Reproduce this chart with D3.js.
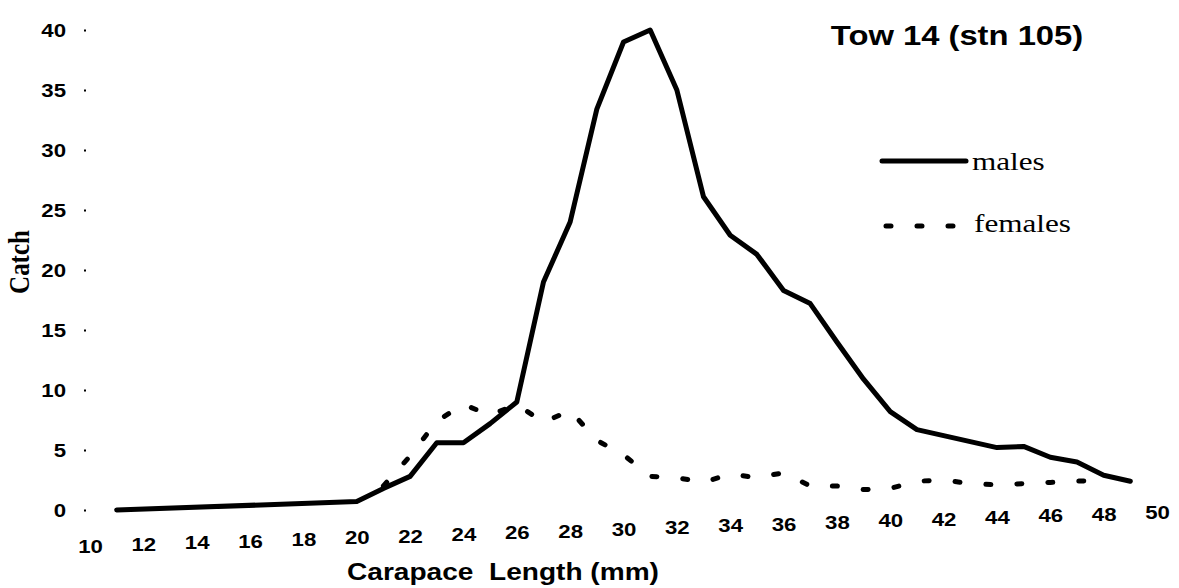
<!DOCTYPE html>
<html>
<head>
<meta charset="utf-8">
<script src="https://cdn.jsdelivr.net/npm/d3@7"></script>
<style>
  html, body { margin: 0; padding: 0; background: #fff; }
  svg { display: block; }
</style>
</head>
<body>
<svg id="chart" width="1179" height="588"></svg>
<script>
// ---- data ----
const maleLengths   = [11, 20, 21, 22, 23, 24, 25, 26, 27, 28, 29, 30, 31, 32, 33, 34, 35, 36, 37, 38, 39, 40, 41, 42, 43, 44, 45, 46, 47, 48, 49];
const maleCatch     = [0.0, 0.7, 1.8, 2.8, 5.6, 5.6, 7.2, 9.0, 19.0, 24.0, 33.4, 39.0, 40.0, 35.0, 26.1, 22.9, 21.3, 18.3, 17.2, 14.0, 10.9, 8.2, 6.7, 6.2, 5.7, 5.2, 5.3, 4.4, 4.0, 2.9, 2.4];
const femaleLengths = [21, 22, 23, 24, 25, 26, 27, 28, 29, 30, 31, 32, 33, 34, 35, 36, 37, 38, 39, 40, 41, 42, 43, 44, 45, 46, 47, 48];
const femaleCatch   = [2.0, 4.5, 7.4, 8.8, 7.9, 8.8, 7.3, 8.3, 5.8, 4.6, 2.8, 2.7, 2.3, 3.0, 2.7, 3.1, 2.0, 2.0, 1.7, 1.8, 2.4, 2.5, 2.2, 2.1, 2.2, 2.3, 2.4, 2.5];
const xTicks = [10, 12, 14, 16, 18, 20, 22, 24, 26, 28, 30, 32, 34, 36, 38, 40, 42, 44, 46, 48, 50];
const yTicks = [0, 5, 10, 15, 20, 25, 30, 35, 40];
const titleText = "Tow 14 (stn 105)";
const xTitle = "Carapace\u00a0\u00a0Length (mm)";
const yTitle = "Catch";
const seriesNames = ["males", "females"];

// ---- layout ----
const svg = d3.select("#chart");
const x = d3.scaleLinear().domain([10, 50]).range([90, 1157]);
const y = d3.scaleLinear().domain([0, 40]).range([510, 30]);
const SX = 1.17; // horizontal stretch of the scanned text
const sans = "'Liberation Sans', Arial, sans-serif";
const serif = "'Liberation Serif', 'Times New Roman', serif";

// y axis (labels + tiny tick dots, no axis line)
const yAxis = svg.append("g").attr("transform", "translate(84,0)")
  .call(d3.axisLeft(y).tickValues(yTicks).tickSize(2).tickPadding(0));
yAxis.select(".domain").remove();
yAxis.selectAll(".tick line").attr("stroke", "#000").attr("stroke-width", 2)
  .attr("x1", 0).attr("x2", 2);
yAxis.selectAll(".tick text")
  .attr("x", 0).attr("dy", null)
  .attr("dominant-baseline", "central")
  .attr("text-anchor", "end")
  .attr("font-family", sans).attr("font-weight", "bold").attr("font-size", 19)
  .attr("fill", "#000")
  .attr("transform", `translate(-18,0) scale(${SX},1)`);

// x axis (labels only, slightly slanted baseline like the scan)
const xAxis = svg.append("g").attr("transform", "translate(0,0)")
  .call(d3.axisBottom(x).tickValues(xTicks).tickSize(0).tickPadding(0));
xAxis.select(".domain").remove();
xAxis.selectAll(".tick line").remove();
xAxis.selectAll(".tick text")
  .attr("y", 0).attr("dy", null)
  .attr("dominant-baseline", "central")
  .attr("text-anchor", "middle")
  .attr("font-family", sans).attr("font-weight", "bold").attr("font-size", 19)
  .attr("fill", "#000")
  .attr("transform", d => `translate(0,${546 - (d - 10) * 0.85}) scale(${SX},1)`);

// lines
const line = d3.line().x(d => x(d[0])).y(d => y(d[1]));
const maleData = maleLengths.map((l, i) => [l, maleCatch[i]]);
const femaleData = femaleLengths.map((l, i) => [l, femaleCatch[i]]);

svg.append("path").datum(femaleData)
  .attr("d", line)
  .attr("fill", "none").attr("stroke", "#000")
  .attr("stroke-width", 5).attr("stroke-linecap", "round")
  .attr("stroke-dasharray", "5,26");

svg.append("path").datum(maleData)
  .attr("d", line)
  .attr("fill", "none").attr("stroke", "#000")
  .attr("stroke-width", 5).attr("stroke-linejoin", "round").attr("stroke-linecap", "round");

// title
svg.append("text")
  .attr("transform", `translate(957,45) scale(${SX},1)`)
  .attr("text-anchor", "middle")
  .attr("font-family", sans).attr("font-weight", "bold").attr("font-size", 28)
  .text(titleText);

// axis titles
svg.append("text")
  .attr("transform", `translate(503,580) scale(${SX},1)`)
  .attr("text-anchor", "middle")
  .attr("font-family", sans).attr("font-weight", "bold").attr("font-size", 24)
  .text(xTitle);

svg.append("text")
  .attr("transform", `translate(29,262) scale(${SX},1) rotate(-90)`)
  .attr("text-anchor", "middle")
  .attr("font-family", serif).attr("font-weight", "bold").attr("font-size", 25)
  .text(yTitle);

// legend
const leg = svg.append("g");
leg.append("line").attr("x1", 882).attr("x2", 966).attr("y1", 161).attr("y2", 161)
  .attr("stroke", "#000").attr("stroke-width", 5).attr("stroke-linecap", "round");
leg.append("text")
  .attr("transform", `translate(972,170) scale(1.2,1)`)
  .attr("font-family", serif).attr("font-size", 26)
  .text(seriesNames[0]);
leg.append("line").attr("x1", 886).attr("x2", 960).attr("y1", 226).attr("y2", 226)
  .attr("stroke", "#000").attr("stroke-width", 5).attr("stroke-linecap", "round")
  .attr("stroke-dasharray", "5,26");
leg.append("text")
  .attr("transform", `translate(974,232) scale(1.2,1)`)
  .attr("font-family", serif).attr("font-size", 26)
  .text(seriesNames[1]);
</script>
</body>
</html>
